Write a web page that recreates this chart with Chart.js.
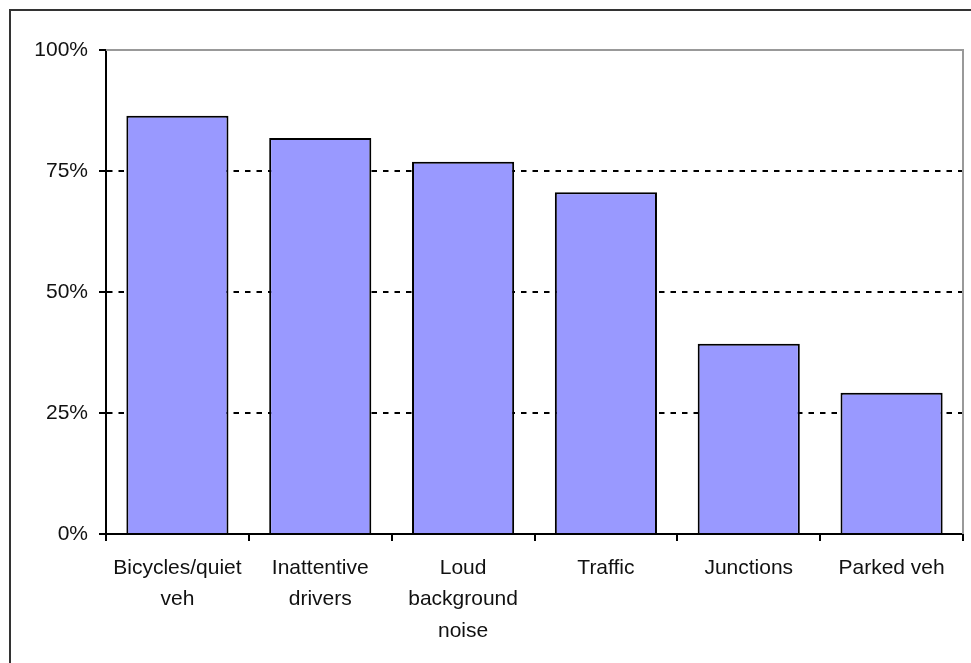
<!DOCTYPE html>
<html>
<head>
<meta charset="utf-8">
<script src="https://cdn.jsdelivr.net/npm/chart.js@4"></script>
<style>
html,body{margin:0;padding:0;background:#fff;}
#wrap{width:971px;height:663px;position:relative;}
</style>
</head>
<body>
<div id="wrap"><canvas id="c" width="971" height="663"></canvas></div>
<script>
const categories = [["Bicycles/quiet","veh"],["Inattentive","drivers"],["Loud","background","noise"],"Traffic","Junctions","Parked veh"];
const values = [86.4, 81.8, 76.9, 70.6, 39.3, 29.2];
const yTicks = [0, 25, 50, 75, 100];

const frame = {
  id: 'frame',
  beforeDraw(chart) {
    const ctx = chart.ctx;
    ctx.save();
    ctx.strokeStyle = '#333';
    ctx.lineWidth = 2;
    ctx.strokeRect(10, 10, 1200, 1200);
    ctx.restore();
  },
  afterDatasetsDraw(chart) {
    const {ctx, chartArea: a} = chart;
    ctx.save();
    ctx.strokeStyle = '#999';
    ctx.lineWidth = 2;
    ctx.beginPath();
    ctx.moveTo(a.left, a.top);
    ctx.lineTo(a.right, a.top);
    ctx.lineTo(a.right, a.bottom);
    ctx.stroke();
    ctx.restore();
  }
};

const font = {family: '"Liberation Sans", Arial, sans-serif', size: 21};

new Chart(document.getElementById('c'), {
  type: 'bar',
  data: {
    labels: categories,
    datasets: [{
      data: values,
      backgroundColor: '#9999FF',
      borderColor: '#000',
      borderWidth: 2,
      barPercentage: 0.715,
      categoryPercentage: 1.0
    }]
  },
  options: {
    responsive: false,
    animation: false,
    events: [],
    layout: {padding: {left: 0, right: 8, top: 50, bottom: 0}},
    plugins: {legend: {display: false}, tooltip: {enabled: false}},
    scales: {
      x: {
        offset: true,
        grid: {display: true, drawOnChartArea: false, offset: true, tickLength: 7, color: '#000', tickColor: '#000', lineWidth: 2},
        border: {display: true, color: '#000', width: 2},
        ticks: {color: '#111', font: Object.assign({lineHeight: 1.5}, font), padding: 11, maxRotation: 0, autoSkip: false},
        afterFit(s) { s.height = 129; }
      },
      y: {
        min: 0, max: 100,
        afterBuildTicks(s) { s.ticks = yTicks.map(v => ({value: v})); },
        grid: {
          color: c => (c.tick && (c.tick.value === 0 || c.tick.value === 100)) ? 'rgba(0,0,0,0)' : '#000',
          tickColor: '#000',
          lineWidth: 2,
          tickLength: 7,
          tickBorderDash: []
        },
        border: {display: true, color: '#000', width: 2, dash: [5.5, 6]},
        ticks: {color: '#111', font: font, padding: 11, callback: v => v + '%'},
        afterFit(s) { s.width = 106; }
      }
    }
  },
  plugins: [frame]
});
</script>
</body>
</html>
